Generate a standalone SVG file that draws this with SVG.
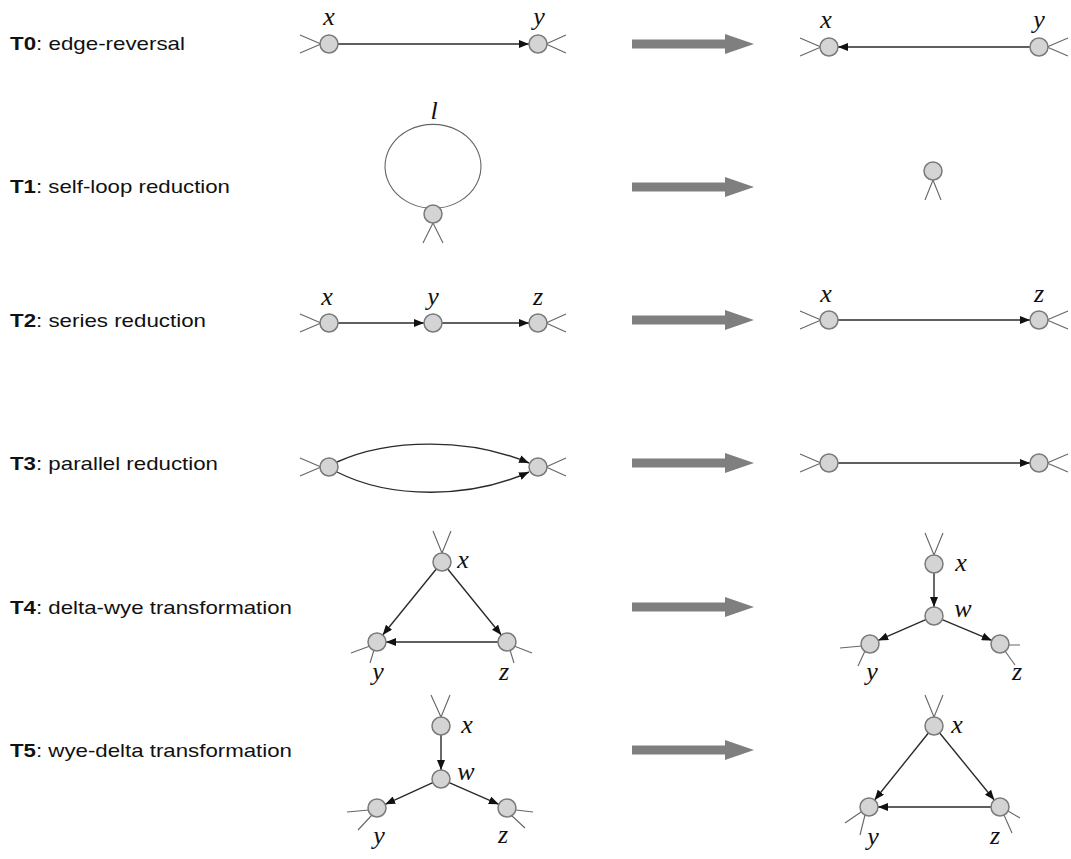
<svg xmlns="http://www.w3.org/2000/svg" width="1071" height="859" viewBox="0 0 1071 859">
<style>
.lbl{font-family:"Liberation Sans",Arial,sans-serif;font-size:19px;fill:#111}
.lbl tspan.b{font-weight:bold}
.v{font-family:"Liberation Serif","Times New Roman",serif;font-style:italic;font-size:26px;fill:#111;text-anchor:middle}
.n{fill:#d4d4d4;stroke:#7a7a7a;stroke-width:1.5}
.s{stroke:#666;stroke-width:1.1;fill:none}
.e{stroke:#2a2a2a;stroke-width:1.4;fill:none;marker-end:url(#ah)}
.big{fill:#7f7f7f}
</style>
<defs>
<marker id="ah" markerUnits="userSpaceOnUse" viewBox="0 0 10 8" refX="10" refY="4" markerWidth="10" markerHeight="8" orient="auto">
<path d="M0,0 L10,4 L0,8 z" fill="#111"/>
</marker>
<polygon id="bigarrow" class="big" points="632,-4.5 725,-4.5 725,-10 754,0 725,10 725,4.5 632,4.5"/>
</defs>
<rect width="1071" height="859" fill="#fff"/>

<g id="labels">
<text class="lbl" x="10" y="50" textLength="175" lengthAdjust="spacingAndGlyphs"><tspan class="b">T0</tspan>: edge-reversal</text>
<text class="lbl" x="10" y="193" textLength="220" lengthAdjust="spacingAndGlyphs"><tspan class="b">T1</tspan>: self-loop reduction</text>
<text class="lbl" x="10" y="327" textLength="196" lengthAdjust="spacingAndGlyphs"><tspan class="b">T2</tspan>: series reduction</text>
<text class="lbl" x="10" y="470" textLength="208" lengthAdjust="spacingAndGlyphs"><tspan class="b">T3</tspan>: parallel reduction</text>
<text class="lbl" x="10" y="614" textLength="282" lengthAdjust="spacingAndGlyphs"><tspan class="b">T4</tspan>: delta-wye transformation</text>
<text class="lbl" x="10" y="757" textLength="282" lengthAdjust="spacingAndGlyphs"><tspan class="b">T5</tspan>: wye-delta transformation</text>
</g>

<g id="big-arrows">
<use href="#bigarrow" y="44"/>
<use href="#bigarrow" y="187"/>
<use href="#bigarrow" y="320"/>
<use href="#bigarrow" y="463"/>
<use href="#bigarrow" y="607"/>
<use href="#bigarrow" y="750"/>
</g>

<g id="connectors">
<line class="e" x1="338" y1="44" x2="529" y2="44"/>
<line class="e" x1="1030" y1="47" x2="838" y2="47"/>
<path class="s" d="M427,208 A48,42 0 1 1 439,208" stroke="#444"/>
<line class="e" x1="338" y1="323" x2="424" y2="323"/>
<line class="e" x1="442" y1="323" x2="529" y2="323"/>
<line class="e" x1="838" y1="320" x2="1030" y2="320"/>
<path class="e" d="M337,462 C390,438 470,438 529,463"/>
<path class="e" d="M337,472 C390,499 470,499 529,472"/>
<line class="e" x1="838" y1="463" x2="1030" y2="463"/>
<line class="e" x1="436.3" y1="569" x2="382.7" y2="635"/>
<line class="e" x1="447.7" y1="569" x2="501.3" y2="635"/>
<line class="e" x1="498" y1="642" x2="386" y2="642"/>
<line class="e" x1="934" y1="573" x2="934" y2="607"/>
<line class="e" x1="925.8" y1="619.6" x2="878.2" y2="640.4"/>
<line class="e" x1="942.2" y1="619.6" x2="991.8" y2="640.4"/>
<line class="e" x1="441" y1="735" x2="441" y2="770"/>
<line class="e" x1="432.8" y1="782.7" x2="385.2" y2="804.3"/>
<line class="e" x1="449.2" y1="782.7" x2="498.8" y2="804.3"/>
<line class="e" x1="928.4" y1="733" x2="874.6" y2="800"/>
<line class="e" x1="939.7" y1="733" x2="994.3" y2="800"/>
<line class="e" x1="991" y1="807" x2="878" y2="807"/>
</g>

<g id="stubs">
<path class="s" d="M300,35 L321,44 L300,53 M566,35 L546,44 L566,53"/>
<path class="s" d="M800,38 L821,47 L800,56 M1068,38 L1047,47 L1068,56"/>
<path class="s" d="M423,243 L433,223 L443,243"/>
<path class="s" d="M925,200 L933,180 L941,200"/>
<path class="s" d="M300,314 L321,323 L300,332 M566,314 L546,323 L566,332"/>
<path class="s" d="M800,311 L821,320 L800,329 M1068,311 L1047,320 L1068,329"/>
<path class="s" d="M300,458 L321,467 L300,476 M566,458 L546,467 L566,476"/>
<path class="s" d="M800,454 L821,463 L800,472 M1068,454 L1047,463 L1068,472"/>
<path class="s" d="M433,531 L442,553 L451,531"/>
<path class="s" d="M351,653 L370,646 M370,663 L374,650"/>
<path class="s" d="M532,653 L514,646 M514,663 L510,650"/>
<path class="s" d="M925,533 L934,555 L943,533"/>
<path class="s" d="M840,648 L862,646 M858,666 L865,651"/>
<path class="s" d="M1020,645 L1009,645 M1015,665 L1005,651"/>
<path class="s" d="M431,695 L441,717 L450,695"/>
<path class="s" d="M347,812 L369,810 M358,830 L372,815"/>
<path class="s" d="M533,812 L516,810 M525,828 L511,815"/>
<path class="s" d="M925,695 L934,717 L943,695"/>
<path class="s" d="M845,823 L861,812 M860,835 L865,815"/>
<path class="s" d="M1020,818 L1008,811 M1012,833 L1004,815"/>
</g>

<g id="T0-left-x"><circle class="n" cx="329" cy="44" r="9"/><text class="v" x="329" y="25">x</text></g>
<g id="T0-left-y"><circle class="n" cx="538" cy="44" r="9"/><text class="v" x="539" y="25">y</text></g>
<g id="T0-right-x"><circle class="n" cx="829" cy="47" r="9"/><text class="v" x="826" y="28">x</text></g>
<g id="T0-right-y"><circle class="n" cx="1039" cy="47" r="9"/><text class="v" x="1039" y="28">y</text></g>

<g id="T1-left-node"><circle class="n" cx="433" cy="214" r="9"/><text class="v" x="434" y="119">l</text></g>
<g id="T1-right-node"><circle class="n" cx="933" cy="171" r="9"/></g>

<g id="T2-left-x"><circle class="n" cx="329" cy="323" r="9"/><text class="v" x="327" y="305">x</text></g>
<g id="T2-left-y"><circle class="n" cx="433" cy="323" r="9"/><text class="v" x="433" y="305">y</text></g>
<g id="T2-left-z"><circle class="n" cx="538" cy="323" r="9"/><text class="v" x="538" y="305">z</text></g>
<g id="T2-right-x"><circle class="n" cx="829" cy="320" r="9"/><text class="v" x="826" y="302">x</text></g>
<g id="T2-right-z"><circle class="n" cx="1039" cy="320" r="9"/><text class="v" x="1039" y="302">z</text></g>

<g id="T3-left-a"><circle class="n" cx="329" cy="467" r="9"/></g>
<g id="T3-left-b"><circle class="n" cx="538" cy="467" r="9"/></g>
<g id="T3-right-a"><circle class="n" cx="829" cy="463" r="9"/></g>
<g id="T3-right-b"><circle class="n" cx="1039" cy="463" r="9"/></g>

<g id="T4-left-x"><circle class="n" cx="442" cy="562" r="9"/><text class="v" x="463" y="568">x</text></g>
<g id="T4-left-y"><circle class="n" cx="377" cy="642" r="9"/><text class="v" x="378" y="680">y</text></g>
<g id="T4-left-z"><circle class="n" cx="507" cy="642" r="9"/><text class="v" x="504" y="680">z</text></g>
<g id="T4-right-x"><circle class="n" cx="934" cy="564" r="9"/><text class="v" x="961" y="571">x</text></g>
<g id="T4-right-w"><circle class="n" cx="934" cy="616" r="9"/><text class="v" x="963" y="617">w</text></g>
<g id="T4-right-y"><circle class="n" cx="870" cy="644" r="9"/><text class="v" x="872" y="680">y</text></g>
<g id="T4-right-z"><circle class="n" cx="1000" cy="644" r="9"/><text class="v" x="1017" y="680">z</text></g>

<g id="T5-left-x"><circle class="n" cx="441" cy="726" r="9"/><text class="v" x="467" y="733">x</text></g>
<g id="T5-left-w"><circle class="n" cx="441" cy="779" r="9"/><text class="v" x="466" y="780">w</text></g>
<g id="T5-left-y"><circle class="n" cx="377" cy="808" r="9"/><text class="v" x="379" y="844">y</text></g>
<g id="T5-left-z"><circle class="n" cx="507" cy="808" r="9"/><text class="v" x="503" y="843">z</text></g>
<g id="T5-right-x"><circle class="n" cx="934" cy="726" r="9"/><text class="v" x="957" y="733">x</text></g>
<g id="T5-right-y"><circle class="n" cx="869" cy="807" r="9"/><text class="v" x="873" y="845">y</text></g>
<g id="T5-right-z"><circle class="n" cx="1000" cy="807" r="9"/><text class="v" x="995" y="844">z</text></g>
</svg>
